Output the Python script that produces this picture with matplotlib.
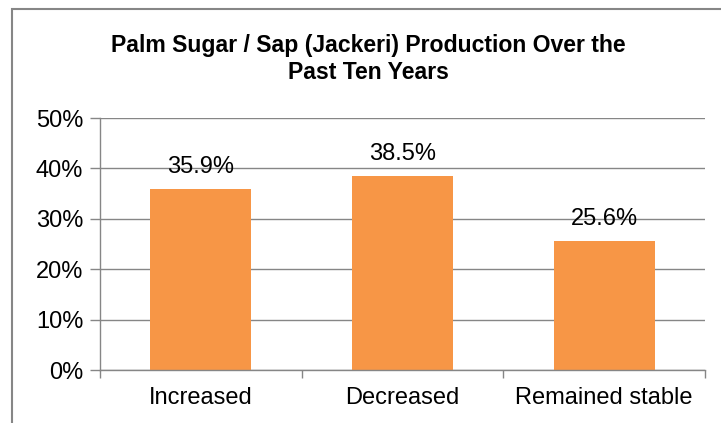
import matplotlib
matplotlib.use("Agg")
import matplotlib.pyplot as plt
from matplotlib.patches import Rectangle
from matplotlib.ticker import FuncFormatter, MultipleLocator

categories = ["Increased", "Decreased", "Remained stable"]
values = [35.9, 38.5, 25.6]
labels = ["35.9%", "38.5%", "25.6%"]
title = "Palm Sugar / Sap (Jackeri) Production Over the\nPast Ten Years"

plt.rcParams['font.family'] = ['Liberation Sans', 'DejaVu Sans']

W, H = 721, 423
fig = plt.figure(figsize=(W / 100, H / 100), dpi=100)
ax = fig.add_axes([100 / W, 1 - 370 / H, 605 / W, 252 / H])

grid_c = "#868686"
bar_c = "#F79646"

x = list(range(len(categories)))
ax.bar(x, values, width=0.5, color=bar_c, zorder=3)
ax.set_xlim(-0.5, len(categories) - 0.5)
ax.set_ylim(0, 50)
ax.yaxis.set_major_locator(MultipleLocator(10))
ax.yaxis.set_major_formatter(FuncFormatter(lambda v, p: f"{v:.0f}%"))
ax.grid(axis='y', color=grid_c, linewidth=1.0, zorder=1)
ax.set_axisbelow(False)

for s in ["top", "right"]:
    ax.spines[s].set_visible(False)
for s in ["left", "bottom"]:
    ax.spines[s].set_color(grid_c)
    ax.spines[s].set_linewidth(1.0)
    ax.spines[s].set_zorder(4)

ax.set_xticks(x)
ax.set_xticklabels(categories)
ax.tick_params(axis='x', length=0, labelsize=17, pad=12)
ax.set_xticks([i - 0.5 for i in range(len(categories) + 1)], minor=True)
ax.tick_params(axis='x', which='minor', length=6, color=grid_c, width=1.0)
ax.tick_params(axis='y', length=7, color=grid_c, width=1.0, labelsize=17, pad=5)

for xi, v, lab in zip(x, values, labels):
    ax.annotate(lab, (xi, v), xytext=(0, 8), textcoords='offset points',
                ha='center', va='bottom', fontsize=17, zorder=5)

fig.text(368 / W, 1 - 59 / H, title, ha='center', va='center',
         fontsize=16.6, fontweight='bold', linespacing=1.2)

border = Rectangle((12 / W, -0.1), 1.2, 1 - 9 / H + 0.1, transform=fig.transFigure,
                   fill=False, edgecolor=grid_c, linewidth=1.5, clip_on=False)
fig.patches.append(border)

fig.savefig("out.png", dpi=100)
